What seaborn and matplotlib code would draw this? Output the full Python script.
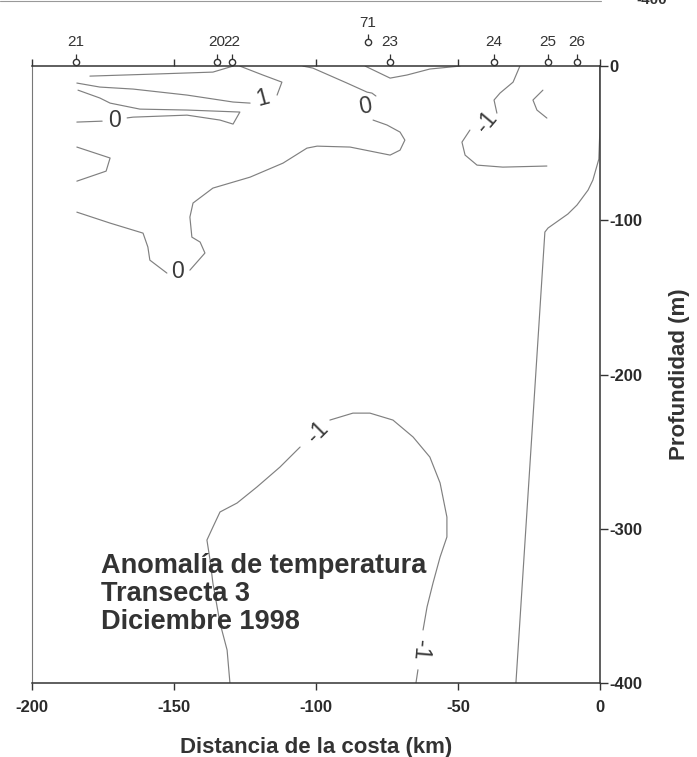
import matplotlib
matplotlib.use("Agg")
import matplotlib.pyplot as plt
from matplotlib.transforms import offset_copy
import seaborn as sns

# Estaciones de la transecta (distancia a la costa, km)
estaciones = ["21", "20", "22", "71", "23", "24", "25", "26"]
estaciones_km = [-184.5, -135.0, -129.6, -81.7, -74.0, -37.3, -18.3, -8.1]

# Isolíneas de anomalía de temperatura (km, m)
iso1_sup_km = [-179.6, -157.4, -136.3, -129.2]
iso1_sup_m = [-6.5, -5.2, -3.9, 0.0]

iso1_inf_a_km = [-184.2, -176.1, -164.4, -145.4, -129.2, -123.2]
iso1_inf_a_m = [-11.0, -13.6, -14.9, -18.8, -23.3, -24.0]
iso1_inf_b_km = [-113.7, -112.0, -118.7, -126.8]
iso1_inf_b_m = [-18.8, -10.4, -5.8, 0.0]

iso0_lengua_a_km = [-183.8, -176.1, -172.5, -162.0, -145.4, -126.8, -129.2, -133.8, -145.4, -164.4, -166.5]
iso0_lengua_a_m = [-15.6, -20.7, -24.0, -27.9, -28.5, -29.8, -37.6, -35.0, -31.8, -33.1, -33.6]
iso0_lengua_b_km = [-175.3, -184.2]
iso0_lengua_b_m = [-35.7, -36.3]

iso_izq_km = [-184.2, -172.5, -173.9, -184.2]
iso_izq_m = [-52.5, -59.6, -68.1, -74.6]

iso0_grande_a_km = [-184.2, -172.5, -160.9, -159.2, -158.5, -152.5]
iso0_grande_a_m = [-94.7, -101.8, -108.3, -117.3, -125.8, -134.2]
iso0_grande_b_km = [-144.4, -139.1, -140.8, -143.7, -144.4, -143.3, -136.3, -123.2, -111.6,
                    -103.2, -99.6, -88.0, -73.9, -70.4, -68.7, -70.4, -75.0, -79.9]
iso0_grande_b_m = [-132.3, -121.2, -114.1, -110.9, -97.9, -88.8, -79.1, -72.0, -62.9,
                   -53.2, -51.9, -52.5, -57.7, -54.5, -48.0, -42.8, -38.2, -35.0]
iso0_grande_c_km = [-78.9, -80.3, -82.0, -89.1, -101.1, -104.6]
iso0_grande_c_m = [-19.4, -17.5, -16.9, -11.0, -1.3, 0.0]

iso_v_km = [-82.7, -73.9, -68.0, -59.9, -49.3]
iso_v_m = [0.0, -7.8, -5.8, -1.9, 0.0]

isom1_sup_a_km = [-28.2, -30.6, -35.2, -37.3, -36.3]
isom1_sup_a_m = [0.0, -10.4, -17.5, -22.0, -30.5]
isom1_sup_b_km = [-45.8, -48.6, -47.5, -43.3, -34.2, -18.7]
isom1_sup_b_m = [-41.5, -49.3, -57.7, -64.2, -65.5, -64.8]

iso_arco_km = [-20.1, -23.6, -22.2, -18.7]
iso_arco_m = [-15.6, -22.0, -28.5, -33.7]

iso_costa_km = [0.0, 0.0, -0.4, -2.5, -4.2, -8.1, -11.3, -18.3, -19.4, -29.6]
iso_costa_m = [0.0, -39.5, -60.3, -73.9, -80.4, -90.1, -95.9, -105.0, -107.6, -400.0]

isom1_prof_a_km = [-130.3, -131.3, -133.8, -136.3, -137.3, -138.4, -136.3, -133.8, -127.8,
                   -120.8, -112.7, -106.7, -105.6]
isom1_prof_a_m = [-400.0, -378.6, -361.1, -335.2, -320.3, -307.3, -298.9, -289.1, -283.3,
                  -272.9, -260.0, -249.0, -247.0]
isom1_prof_b_km = [-95.1, -87.0, -81.0, -72.9, -65.8, -59.9, -56.3, -53.9, -53.9, -56.3,
                   -58.8, -60.9, -62.3]
isom1_prof_b_m = [-229.5, -225.0, -225.0, -229.5, -240.5, -253.5, -270.3, -292.4, -305.3,
                  -318.3, -335.2, -350.7, -365.6]
isom1_prof_c_km = [-64.1, -64.8]
isom1_prof_c_m = [-391.4, -400.0]

# Etiquetas de las isolíneas
etiquetas_txt = ["1", "0", "0", "0", "-1", "-1", "-1"]
etiquetas_km = [-118.7, -170.8, -148.6, -82.7, -40.1, -99.3, -63.0]
etiquetas_m = [-20.7, -35.0, -133.5, -25.9, -36.3, -237.3, -378.6]
etiquetas_rot = [15, 0, 0, 10, 50, 45, -95]

sns.set_theme(style="white")
plt.rcParams["font.family"] = ["Liberation Sans", "DejaVu Sans"]

fig = plt.figure(figsize=(6.97, 7.57), dpi=100)
ax = fig.add_axes([0.0459, 0.0977, 0.8149, 0.815])

color_linea = "#808080"
tramos = [
    (iso1_sup_km, iso1_sup_m), (iso1_inf_a_km, iso1_inf_a_m), (iso1_inf_b_km, iso1_inf_b_m),
    (iso0_lengua_a_km, iso0_lengua_a_m), (iso0_lengua_b_km, iso0_lengua_b_m),
    (iso_izq_km, iso_izq_m),
    (iso0_grande_a_km, iso0_grande_a_m), (iso0_grande_b_km, iso0_grande_b_m),
    (iso0_grande_c_km, iso0_grande_c_m),
    (iso_v_km, iso_v_m),
    (isom1_sup_a_km, isom1_sup_a_m), (isom1_sup_b_km, isom1_sup_b_m),
    (iso_arco_km, iso_arco_m), (iso_costa_km, iso_costa_m),
    (isom1_prof_a_km, isom1_prof_a_m), (isom1_prof_b_km, isom1_prof_b_m),
    (isom1_prof_c_km, isom1_prof_c_m),
]
for xs, ys in tramos:
    sns.lineplot(x=xs, y=ys, sort=False, estimator=None, ax=ax,
                 color=color_linea, linewidth=0.85)

for txt, xk, ym, rot in zip(etiquetas_txt, etiquetas_km, etiquetas_m, etiquetas_rot):
    ax.text(xk, ym, txt, fontsize=16.5, color="#3a3a3a", ha="center", va="center",
            rotation=rot)

ax.set_xlim(-200, 0)
ax.set_ylim(-400, 0)

# estaciones sobre el eje superior: círculo, tallo corto y número
arriba = ax.get_xaxis_transform()
for nombre, xk in zip(estaciones, estaciones_km):
    alto = 14 if nombre == "71" else 0
    circ = offset_copy(arriba, fig=fig, y=3 + alto, units="points")
    ax.plot([xk], [1.0], marker="o", ms=4.5, mfc="white", mec="#333333", mew=1.0,
            transform=circ, clip_on=False)
    tallo = offset_copy(arriba, fig=fig, y=5.2 + alto, units="points")
    ax.plot([xk], [1.0], marker=2, ms=3.5, mew=0.9, color="#333333",
            transform=tallo, clip_on=False)
    ax.annotate(nombre, xy=(xk, 1.0), xycoords=arriba,
                xytext=(0, 12 + alto), textcoords="offset points",
                ha="center", va="bottom", fontsize=11, color="#333333",
                annotation_clip=False)

for s in ax.spines.values():
    s.set_color("#333333")
    s.set_linewidth(1.1)
ax.spines["left"].set_color("#777777")
ax.spines["left"].set_linewidth(0.8)

ax.set_xticks([-200, -150, -100, -50, 0])
ax.set_xticklabels(["-200", "-150", "-100", "-50", "0"])
ax.set_yticks([0, -100, -200, -300, -400])
ax.set_yticklabels(["0", "-100", "-200", "-300", "-400"])
ax.yaxis.tick_right()
ax.yaxis.set_label_position("right")
ax.tick_params(axis="both", direction="out", length=6, width=1.0, color="#333333",
               labelsize=12, labelcolor="#2a2a2a", pad=2)
ax.tick_params(axis="x", bottom=True, top=True, labeltop=False, pad=7)
ax.tick_params(axis="x", which="major", length=5)
ax.tick_params(axis="y", right=True, left=False, pad=1)
for lab in ax.get_xticklabels() + ax.get_yticklabels():
    lab.set_fontweight("bold")

ax.set_xlabel("Distancia de la costa (km)", fontsize=16, fontweight="bold",
              color="#333333", labelpad=16)
ax.set_ylabel("Profundidad (m)", fontsize=16, fontweight="bold",
              color="#333333", labelpad=19)

ax.text(-175.7, -315.7, "Anomalía de temperatura\nTransecta 3\nDiciembre 1998",
        fontsize=19.5, fontweight="bold", color="#333333", ha="left", va="top",
        linespacing=1.1)

# resto del panel anterior, cortado en el borde superior
fig.add_artist(plt.Line2D([0.0, 0.862], [0.999, 0.999], color="#999999", lw=0.8))
fig.text(0.935, 1.0, "-400", fontsize=11, fontweight="bold", color="#333333",
         ha="center", va="center")

plt.savefig("out.png", dpi=100)
